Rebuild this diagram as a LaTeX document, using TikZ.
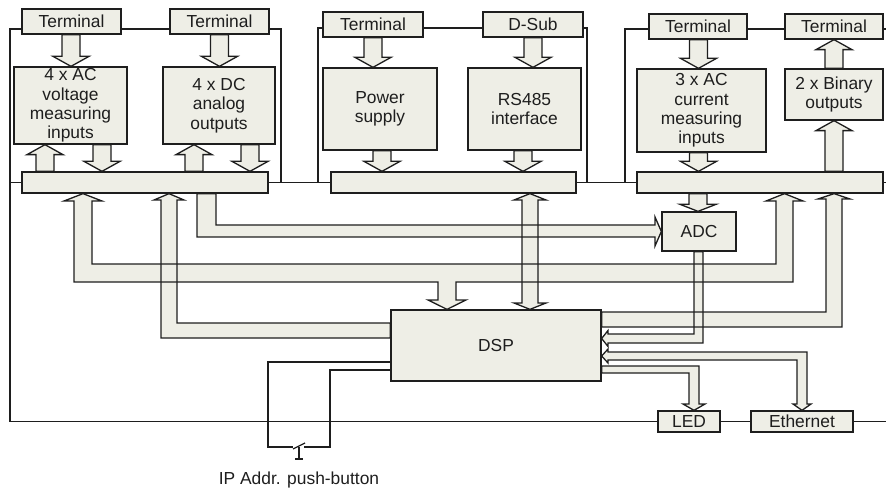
\documentclass[tikz,border=0pt]{standalone}
\usepackage{fontspec}
\setmainfont{Liberation Sans}
\usetikzlibrary{calc}
\definecolor{boxfill}{RGB}{238,238,230}
\definecolor{ink}{RGB}{30,30,30}
\tikzset{
  wire/.style={draw=ink, line width=0.65pt},
  blk/.style={draw=ink, fill=boxfill, line width=0.65pt, line join=miter},
  bandfill/.style={fill=boxfill},
  bandline/.style={draw=ink, line width=0.65pt, line join=miter},
  unitbox/.style={draw=ink, fill=boxfill, line width=0.65pt, align=center, inner sep=0pt, text=ink},
  termbox/.style={unitbox, minimum height=12.5pt},
  busbar/.style={unitbox, minimum height=10.5pt}
}
% straight vertical block arrow: [head length]{x}{from}{to}
\newcommand\vblk[4][5pt]{%
  \path (#2,0 |- #3) coordinate (s) (#2,0 |- #4) coordinate (t) ($(t)!#1!(s)$) coordinate (b);
  \filldraw[blk] ($(s)+(-4.5pt,0)$) -- ($(b)+(-4.5pt,0)$) -- ($(b)+(-9pt,0)$) -- (t)
    -- ($(b)+(9pt,0)$) -- ($(b)+(4.5pt,0)$) -- ($(s)+(4.5pt,0)$) -- cycle;}
% bent bus arrows of the lower part
\newcommand\busmain{(83,0 |- bar1.south) -- (102,201) -- (92,201) -- (92,264) -- (776,264) -- (776,201) -- (766,201) -- (784.5,0 |- bar3.south) -- (803,201) -- (793,201) -- (793,282) -- (456,282) -- (456,300) -- (466,300) -- (447,0 |- dsp.north) -- (428,300) -- (438,300) -- (438,282) -- (74,282) -- (74,201) -- (64,201) -- cycle}
\newcommand\busadc{(197,0 |- bar1.south) -- (216,0 |- bar1.south) -- (216,225) -- (655,225) -- (655,217) -- (adc.west) -- (655,246) -- (655,237) -- (197,237) -- cycle}
\newcommand\busleft{(169,0 |- bar1.south) -- (184,200) -- (177,200) -- (177,323) -- (dsp.west |- 0,323) -- (dsp.west |- 0,338) -- (161,338) -- (161,200) -- (154,200) -- cycle}
\newcommand\busrs{(530,0 |- bar2.south) -- (546,200) -- (538,200) -- (538,303) -- (546,303) -- (530,0 |- dsp.north) -- (514,303) -- (522,303) -- (522,200) -- (514,200) -- cycle}
\newcommand\busbin{(dsp.east |- 0,312) -- (826,312) -- (826,199) -- (818,199) -- (834,0 |- bar3.south) -- (850,199) -- (842,199) -- (842,327) -- (dsp.east |- 0,327) -- cycle}
\newcommand\busadcdsp{(694,0 |- adc.south) -- (703,0 |- adc.south) -- (703,343) -- (608,343) -- (608,346.5) -- (dsp.east |- 0,338.5) -- (608,330.5) -- (608,334) -- (694,334) -- cycle}
\newcommand\buseth{(dsp.east |- 0,356) -- (608,349) -- (608,352) -- (807,352) -- (807,404) -- (811,404) -- (802,0 |- eth.north) -- (793,404) -- (797,404) -- (797,360) -- (608,360) -- (608,363) -- cycle}
\newcommand\busled{(dsp.east |- 0,366) -- (699,366) -- (699,404) -- (705,404) -- (694,0 |- led.north) -- (683,404) -- (689,404) -- (689,373) -- (dsp.east |- 0,373) -- cycle}

\begin{document}
\begin{tikzpicture}[x=0.5pt, y=-0.5pt, every node/.style={font=\fontsize{8.7}{9.7}\selectfont}]
  \useasboundingbox (0,0) rectangle (886,491);
  % voltage inputs and analog outputs
  \node[termbox, minimum width=49.5pt] (t1) at (71.5,21.5) {Terminal};
  \node[termbox, minimum width=49.5pt] (t2) at (219.5,21.5) {Terminal};
  \node[unitbox, minimum width=56.5pt, minimum height=38.5pt] (vin) at (70.5,105.5) {4 x AC\\voltage\\measuring\\inputs};
  \node[unitbox, minimum width=56pt, minimum height=38.5pt] (dcout) at (219,105.5) {4 x DC\\analog\\outputs};
  \node[busbar, minimum width=123pt] (bar1) at (145,182.5) {};
  % power supply and RS485
  \node[termbox, minimum width=50pt] (t3) at (373,24.5) {Terminal};
  \node[termbox, minimum width=50pt] (dsub) at (533,24.5) {D-Sub};
  \node[unitbox, minimum width=57pt, minimum height=41pt] (psu) at (380,109) {Power\\supply};
  \node[unitbox, minimum width=56.5pt, minimum height=41pt] (rs485) at (524.5,109) {RS485\\interface};
  \node[busbar, minimum width=122.5pt] (bar2) at (453.5,182.5) {};
  % current inputs and binary outputs
  \node[termbox, minimum width=49pt] (t4) at (698,26.5) {Terminal};
  \node[termbox, minimum width=49pt] (t5) at (834,26.5) {Terminal};
  \node[unitbox, minimum width=64.5pt, minimum height=41.5pt] (iin) at (701.5,110.5) {3 x AC\\current\\measuring\\inputs};
  \node[unitbox, minimum width=49pt, minimum height=25.5pt] (binout) at (834,94.5) {2 x Binary\\outputs};
  \node[busbar, minimum width=123pt] (bar3) at (760,182.5) {};
  % processing
  \node[unitbox, minimum width=37pt, minimum height=19.5pt] (adc) at (699,231.5) {ADC};
  \node[unitbox, minimum width=105pt, minimum height=35.5pt] (dsp) at (496,345.5) {DSP};
  \node[unitbox, minimum width=31pt, minimum height=10.5pt] (led) at (689,421.5) {LED};
  \node[unitbox, minimum width=51pt, minimum height=10.5pt] (eth) at (802,421.5) {Ethernet};
  \node[text=ink] (pblabel) at (299,480) {IP Addr. push-button};

  % housing lines
  \draw[wire] (t1.west |- 0,29) -| (10,421.5) -- (led.west);
  \draw[wire] (t1.east |- 0,29) -- (t2.west |- 0,29);
  \draw[wire] (t2.east |- 0,29) -| (281,182.5);
  \draw[wire] (10,182.5) -- (bar1.west);
  \draw[wire] (bar1.east) -- (bar2.west);
  \draw[wire] (bar2.east) -- (bar3.west);
  \draw[wire] (bar3.east) -- (886,182.5);
  \draw[wire] (318,182.5) |- (t3.west |- 0,28);
  \draw[wire] (t3.east |- 0,28) -- (dsub.west |- 0,28);
  \draw[wire] (dsub.east |- 0,28) -| (587,182.5);
  \draw[wire] (625,182.5) |- (t4.west |- 0,29);
  \draw[wire] (t4.east |- 0,29) -- (t5.west |- 0,29);
  \draw[wire] (t5.east |- 0,29) -- (886,29);
  \draw[wire] (led.east) -- (eth.west);
  \draw[wire] (eth.east) -- (886,421.5);

  % push-button
  \draw[wire] (dsp.west |- 0,362) -| (268,447) -- (293,447);
  \draw[wire] (dsp.west |- 0,370) -| (330,447) -- (304,447);
  \draw[wire] (293,449) -- (305,443);
  \draw[wire] (299,447) -- (299,459) (295,459) -- (303,459);

  % block arrows of the upper part
  \vblk{71}{t1.south}{vin.north}
  \vblk{45}{bar1.north}{vin.south}
  \vblk{102}{vin.south}{bar1.north}
  \vblk{219.5}{t2.south}{dcout.north}
  \vblk{194}{bar1.north}{dcout.south}
  \vblk{250}{dcout.south}{bar1.north}
  \vblk{373}{t3.south}{psu.north}
  \vblk{382}{psu.south}{bar2.north}
  \vblk{533}{dsub.south}{rs485.north}
  \vblk{523}{rs485.south}{bar2.north}
  \vblk{698.5}{t4.south}{iin.north}
  \vblk{698.5}{iin.south}{bar3.north}
  \vblk{834}{binout.north}{t5.south}
  \vblk{834}{bar3.north}{binout.south}
  \vblk[3.5pt]{698}{bar3.south}{adc.north}

  % bus arrows: fill all, then outline all
  \foreach \b in {\busmain,\busadc,\busleft,\busrs,\busbin,\busadcdsp,\buseth,\busled}
    \fill[bandfill] \b;
  \foreach \b in {\busmain,\busadc,\busleft,\busrs,\busbin,\busadcdsp,\buseth,\busled}
    \draw[bandline] \b;
\end{tikzpicture}
\end{document}
